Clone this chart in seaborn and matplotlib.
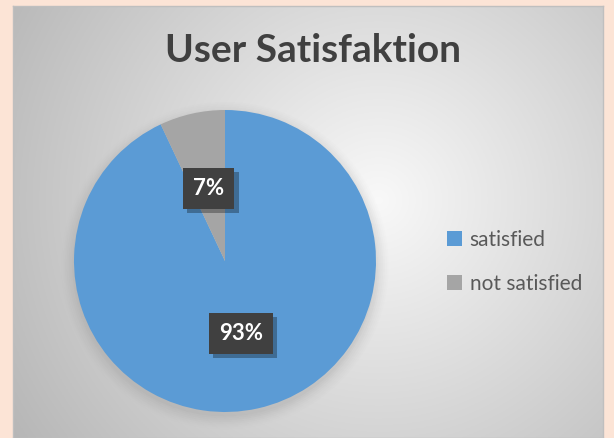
import numpy as np
import matplotlib
matplotlib.use("Agg")
import matplotlib.pyplot as plt
import matplotlib.patheffects as pe
import seaborn as sns
from matplotlib.patches import Patch, Circle

sns.set_theme(style="white")
plt.rcParams['font.family'] = ['Lato', 'DejaVu Sans']

# ---- data ----
categories = ["satisfied", "not satisfied"]
values = [93, 7]
title = "User Satisfaktion"
colors = ["#5B9BD5", "#A5A5A5"]

W, H = 614, 438
fig = plt.figure(figsize=(W / 100, H / 100), dpi=100)
fig.patch.set_facecolor("#FCE4D6")

# inner chart panel with radial gradient
px0, px1, py0, py1 = 13, 603, 6, 438
ax_bg = fig.add_axes([px0 / W, 0, (px1 - px0) / W, (py1 - py0) / H])
nx, ny = 300, 220
xx, yy = np.meshgrid(np.linspace(0, 1, nx), np.linspace(0, 1, ny))
d = np.sqrt(((xx - 0.62) * 1.35) ** 2 + ((yy - 0.55) * 1.0) ** 2)
v = np.clip(0.975 - 0.26 * d, 0, 1)
ax_bg.imshow(np.dstack([v, v, v]), extent=[0, 1, 0, 1], aspect="auto", origin="lower")
ax_bg.set_xticks([]); ax_bg.set_yticks([])
for s in ax_bg.spines.values():
    s.set_color("#BFBFBF"); s.set_linewidth(1)

# title
fig.text(313 / W, 1 - 51 / H, title, ha="center", va="center", fontsize=28,
         fontweight="bold", color="#404040")

# pie axes
cx, cy, r = 225, 261, 151
ax = fig.add_axes([(cx - r) / W, (H - cy - r) / H, 2 * r / W, 2 * r / H])
ax.set_xlim(-1, 1); ax.set_ylim(-1, 1)
ax.set_aspect("equal")
ax.axis("off")

# soft shadow
for i, a in enumerate(np.linspace(0.05, 0.01, 8)):
    ax.add_patch(Circle((0.0, -0.03), 1.0 + 0.012 * i, color="#808080", alpha=a,
                        lw=0, zorder=0, clip_on=False))

wedges, texts, autotexts = ax.pie(
    values, colors=colors, startangle=90, counterclock=False,
    autopct=lambda p: f"{p:.0f}%", pctdistance=0.49,
    wedgeprops=dict(linewidth=0), radius=1.0, frame=False,
    textprops=dict(color="white", fontsize=16, fontweight="bold"))
ax.set_xlim(-1, 1); ax.set_ylim(-1, 1)
for t in autotexts:
    t.set_bbox(dict(boxstyle="square,pad=0.45", facecolor="#404040", edgecolor="none"))
    t.set_zorder(5)
    t.get_bbox_patch().set_path_effects([
        pe.SimplePatchShadow(offset=(3, -3), shadow_rgbFace="#000000", alpha=0.3),
        pe.Normal()])

# legend
handles = [Patch(facecolor=c, edgecolor="none", label=l) for c, l in zip(colors, categories)]
leg = fig.legend(handles=handles, loc="center left", bbox_to_anchor=(428 / W, 1 - 262 / H),
                 frameon=False, fontsize=15, labelspacing=1.15, handlelength=0.75,
                 handleheight=0.75, handletextpad=0.35)
for t in leg.get_texts():
    t.set_color("#595959")

fig.savefig("out.png", dpi=100, facecolor=fig.get_facecolor())
